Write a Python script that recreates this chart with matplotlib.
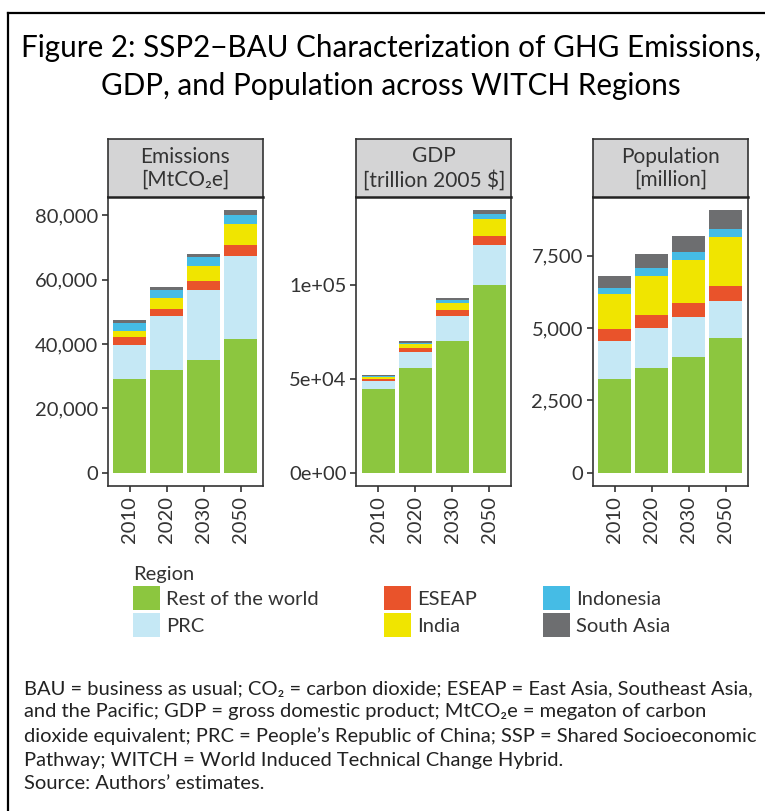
import matplotlib
matplotlib.use("Agg")
import matplotlib.pyplot as plt
from matplotlib.lines import Line2D
from matplotlib.ticker import FixedLocator, FixedFormatter
import numpy as np

plt.rcParams['font.family'] = ['Lato', 'DejaVu Sans']

years = ["2010", "2020", "2030", "2050"]
regions = ["Rest of the world", "PRC", "ESEAP", "India", "Indonesia", "South Asia"]
colors = ["#8CC63F", "#C5E8F5", "#E9532B", "#F0E500", "#45BCE5", "#6D6E70"]

# Emissions [MtCO2e]
emis_row = [29000, 32100, 35200, 41500]
emis_prc = [10600, 16500, 21500, 25800]
emis_eseap = [2500, 2200, 2800, 3400]
emis_india = [2100, 3400, 4600, 6500]
emis_indonesia = [2200, 2500, 2800, 2800]
emis_sasia = [1000, 900, 1000, 1600]

# GDP [trillion 2005 $]
gdp_row = [44500, 55700, 70100, 100000]
gdp_prc = [4300, 8500, 13400, 21400]
gdp_eseap = [1200, 2200, 3200, 4800]
gdp_india = [1100, 2100, 3700, 9000]
gdp_indonesia = [500, 900, 1600, 2700]
gdp_sasia = [400, 700, 1100, 2100]

# Population [million]
pop_row = [3226, 3606, 3986, 4643]
pop_prc = [1313, 1382, 1383, 1279]
pop_eseap = [415, 450, 484, 518]
pop_india = [1210, 1348, 1486, 1694]
pop_indonesia = [207, 276, 276, 276]
pop_sasia = [415, 484, 553, 657]

emis_ticks = [0, 20000, 40000, 60000, 80000]
emis_labels = ["0", "20,000", "40,000", "60,000", "80,000"]
gdp_ticks = [0, 50000, 100000]
gdp_labels = ["0e+00", "5e+04", "1e+05"]
pop_ticks = [0, 2500, 5000, 7500]
pop_labels = ["0", "2,500", "5,000", "7,500"]

panels = [
    ("Emissions\n[MtCO\u2082e]", [emis_row, emis_prc, emis_eseap, emis_india, emis_indonesia, emis_sasia], emis_ticks, emis_labels),
    ("GDP\n[trillion 2005 $]", [gdp_row, gdp_prc, gdp_eseap, gdp_india, gdp_indonesia, gdp_sasia], gdp_ticks, gdp_labels),
    ("Population\n[million]", [pop_row, pop_prc, pop_eseap, pop_india, pop_indonesia, pop_sasia], pop_ticks, pop_labels),
]

W, H = 765, 811
fig = plt.figure(figsize=(W / 100, H / 100), dpi=100)

def fx(px):
    return px / W

def fy(py):
    return 1 - py / H

lefts = [107.7, 356.3, 592.7]
pw = 155
ptop, pbot = 197, 486
stop = 138.5
txtc = "#333333"
handles = None

for (title, series, ticks, labels), lx in zip(panels, lefts):
    ax = fig.add_axes([fx(lx), fy(pbot), pw / W, (pbot - ptop) / H])
    x = np.arange(len(years))
    bottom = np.zeros(len(years))
    conts = []
    for vals, col, name in zip(series, colors, regions):
        c = ax.bar(x, vals, width=0.9, bottom=bottom, color=col, label=name, linewidth=0)
        conts.append(c)
        bottom = bottom + np.array(vals)
    if handles is None:
        handles = conts
    top = bottom.max()
    ax.set_ylim(-0.05 * top, 1.05 * top)
    ax.set_xlim(-0.6, len(years) - 0.4)
    ax.set_xticks(x)
    ax.set_xticklabels(years, rotation=90, fontsize=14.5, color=txtc)
    ax.yaxis.set_major_locator(FixedLocator(ticks))
    ax.yaxis.set_major_formatter(FixedFormatter(labels))
    ax.tick_params(axis='y', labelsize=14.5, labelcolor=txtc, color="#333333", length=4, width=1.2, pad=3)
    ax.tick_params(axis='x', color="#333333", length=4, width=1.2, pad=3)
    for s in ax.spines.values():
        s.set_color("#333333")
        s.set_linewidth(1.2)
    # strip
    sax = fig.add_axes([fx(lx), fy(ptop), pw / W, (ptop - stop) / H])
    sax.set_facecolor("#D4D4D5")
    sax.set_xticks([])
    sax.set_yticks([])
    for s in sax.spines.values():
        s.set_color("#333333")
        s.set_linewidth(1.2)
    sax.spines['bottom'].set_color("#222222")
    sax.spines['bottom'].set_linewidth(1.8)
    sax.text(0.5, 0.49, title, ha='center', va='center', fontsize=15, color=txtc,
             linespacing=1.2, transform=sax.transAxes)

# Title
fig.text(fx(391), fy(67), "Figure 2: SSP2\u2212BAU Characterization of GHG Emissions,\nGDP, and Population across WITCH Regions",
         ha='center', va='center', fontsize=21.3, color="black", linespacing=1.45)

# Legend
leg = fig.legend(handles, regions, ncol=3, title="Region", loc='upper left',
                 bbox_to_anchor=(fx(133), fy(566)), frameon=False, fontsize=14.5,
                 title_fontsize=14.5, alignment='left', borderpad=0, borderaxespad=0,
                 handlelength=1.35, handleheight=1.45, handletextpad=0.3,
                 labelspacing=0.15, columnspacing=3.25)
for t in leg.get_texts():
    t.set_color(txtc)
leg.get_title().set_color(txtc)

# Footnote
note = ("BAU = business as usual; CO\u2082 = carbon dioxide; ESEAP = East Asia, Southeast Asia,\n"
        "and the Pacific; GDP = gross domestic product; MtCO\u2082e = megaton of carbon\n"
        "dioxide equivalent; PRC = People\u2019s Republic of China; SSP = Shared Socioeconomic\n"
        "Pathway; WITCH = World Induced Technical Change Hybrid.\n"
        "Source: Authors\u2019 estimates.")
fig.text(fx(24), fy(680), note, ha='left', va='top', fontsize=14.5, color="#222222", linespacing=1.46)

# Frame
fig.add_artist(Line2D([fx(8), fx(8)], [0, fy(13)], color="black", lw=1.6))
fig.add_artist(Line2D([fx(8), 1], [fy(13), fy(13)], color="black", lw=1.6))

fig.savefig("out.png", dpi=100)
